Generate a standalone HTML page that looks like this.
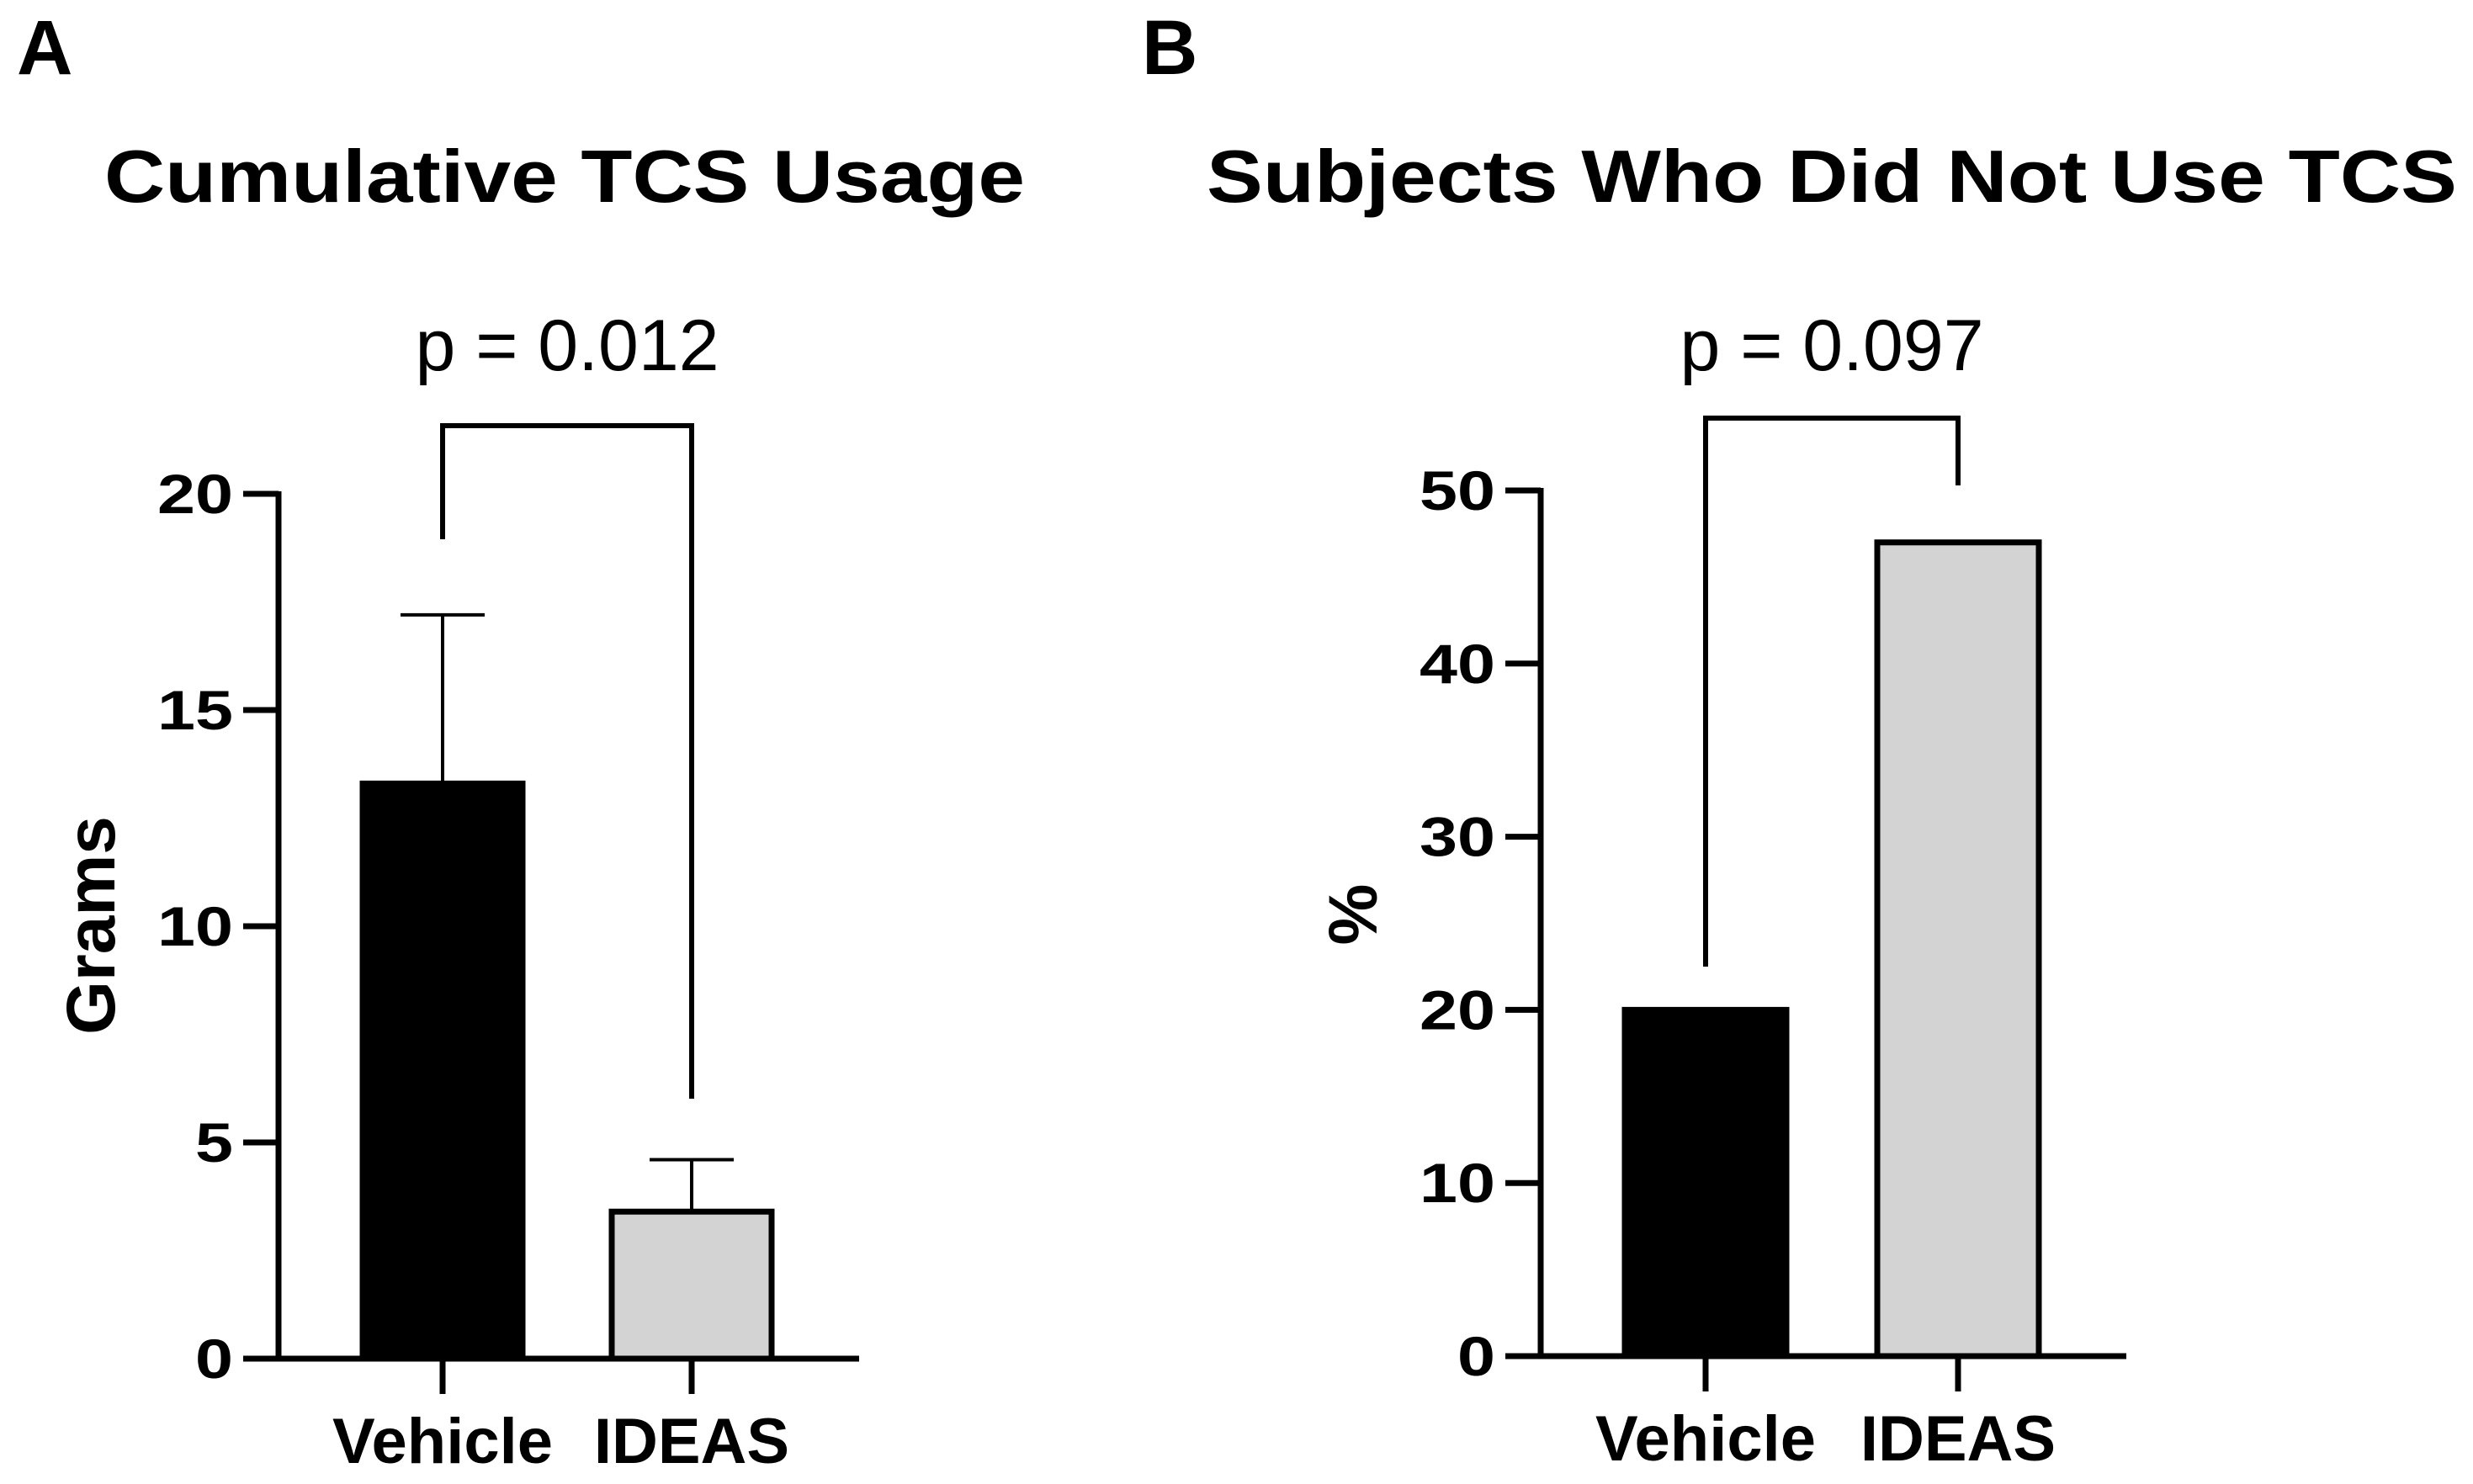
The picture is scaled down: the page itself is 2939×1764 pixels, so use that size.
<!DOCTYPE html>
<html><head><meta charset="utf-8"><style>
html,body{margin:0;padding:0;background:#fff;}
svg{display:block;font-family:"Liberation Sans",Arial,sans-serif;}
</style></head><body>
<svg id="fig" width="2939" height="1764" viewBox="0 0 2939 1764" xmlns="http://www.w3.org/2000/svg">
<text x="20" y="88" font-size="92" font-weight="bold">A</text>
<text x="124" y="240" font-size="88" font-weight="bold" textLength="1094" lengthAdjust="spacingAndGlyphs">Cumulative TCS Usage</text>
<text x="1357" y="88" font-size="92" font-weight="bold">B</text>
<text x="1434" y="240" font-size="88" font-weight="bold" textLength="1486" lengthAdjust="spacingAndGlyphs">Subjects Who Did Not Use TCS</text>
<g id="pa"></g>
<g id="pb"></g>
</svg>
<script>
const categoriesA = ["Vehicle", "IDEAS"];
const valuesA = [13.3, 3.4];
const errorsA = [17.2, 4.6];
const ticksA = [0, 5, 10, 15, 20];
const pLabelA = "p = 0.012";
const categoriesB = ["Vehicle", "IDEAS"];
const valuesB = [20, 47];
const ticksB = [0, 10, 20, 30, 40, 50];
const pLabelB = "p = 0.097";
const fills = ["#000000", "#d3d3d3"];
const NS = "http://www.w3.org/2000/svg";
function mk(parent, tag, attrs){const e=document.createElementNS(NS,tag);for(const k in attrs)e.setAttribute(k,attrs[k]);parent.appendChild(e);return e;}

function drawPanel(g, cfg){
  const yScale = v => cfg.y0 - v / cfg.ymax * (cfg.y0 - cfg.yTop);
  const ya = mk(g,'line',{x1:cfg.ax,y1:cfg.yTop-3,x2:cfg.ax,y2:cfg.y0,stroke:'#000','stroke-width':7});
  
  
  const xa = mk(g,'line',{x1:cfg.ax-3,y1:cfg.y0,x2:cfg.xEnd,y2:cfg.y0,stroke:'#000','stroke-width':7});
  
  
  cfg.ticks.forEach(t=>{
    const y=yScale(t);
    const tl=mk(g,'line',{x1:cfg.ax-42,y1:y,x2:cfg.ax,y2:y,stroke:'#000','stroke-width':7});
    
    
    const s=String(t);
    const tx=mk(g,'text',{x:cfg.ax-54,y:y+23,'font-size':66,'font-weight':'bold','text-anchor':'end',textLength:s.length*45,lengthAdjust:'spacingAndGlyphs'});
    tx.textContent=s;
    
    
  });
  cfg.cats.forEach((c,i)=>{
    const cx=cfg.centers[i], w=cfg.barW, top=yScale(cfg.vals[i]);
    if(cfg.errs){
      const ey=yScale(cfg.errs[i]);
      const el=mk(g,'line',{x1:cx,y1:ey,x2:cx,y2:top,stroke:'#000','stroke-width':4});
      
      
      const ec=mk(g,'line',{x1:cx-50,y1:ey,x2:cx+50,y2:ey,stroke:'#000','stroke-width':4});
      
      
    }
    const r=mk(g,'rect',{x:cx-w/2,y:top,width:w,height:cfg.y0-top,fill:fills[i],stroke:'#000','stroke-width':7});
    
    
    const xt=mk(g,'line',{x1:cx,y1:cfg.y0,x2:cx,y2:cfg.y0+42,stroke:'#000','stroke-width':7});
    
    
    const lt=mk(g,'text',{x:cx,y:cfg.y0+124,'font-size':76,'font-weight':'bold','text-anchor':'middle'});
    lt.textContent=c;
    
    
  });
  const b=mk(g,'polyline',{points:`${cfg.centers[0]},${cfg.bL} ${cfg.centers[0]},${cfg.bTop} ${cfg.centers[1]},${cfg.bTop} ${cfg.centers[1]},${cfg.bR}`,fill:'none',stroke:'#000','stroke-width':6});
  
  
  const p=mk(g,'text',{x:(cfg.centers[0]+cfg.centers[1])/2,y:440,'font-size':86,'text-anchor':'middle'});
  p.textContent=cfg.p;
  
  
  const yl=mk(g,'text',{x:0,y:0,'font-size':cfg.ylSize,'font-weight':'bold','text-anchor':'middle',transform:`translate(${cfg.ylx},${cfg.yly}) rotate(-90)`});
  yl.textContent=cfg.ylabel;
  
  
}
drawPanel(document.getElementById('pa'),{ax:331,yTop:587,y0:1615,ymax:20,xEnd:1021,ticks:ticksA,cats:categoriesA,vals:valuesA,errs:errorsA,centers:[526,822],barW:190,bTop:506,bL:641,bR:1306,p:pLabelA,ylabel:'Grams',ylx:136,yly:1100,ylSize:82});
drawPanel(document.getElementById('pb'),{ax:1831,yTop:583,y0:1612,ymax:50,xEnd:2527,ticks:ticksB,cats:categoriesB,vals:valuesB,errs:null,centers:[2027,2327],barW:192,bTop:497,bL:1149,bR:577,p:pLabelB,ylabel:'%',ylx:1636,yly:1087,ylSize:82});
</script>
</body></html>
